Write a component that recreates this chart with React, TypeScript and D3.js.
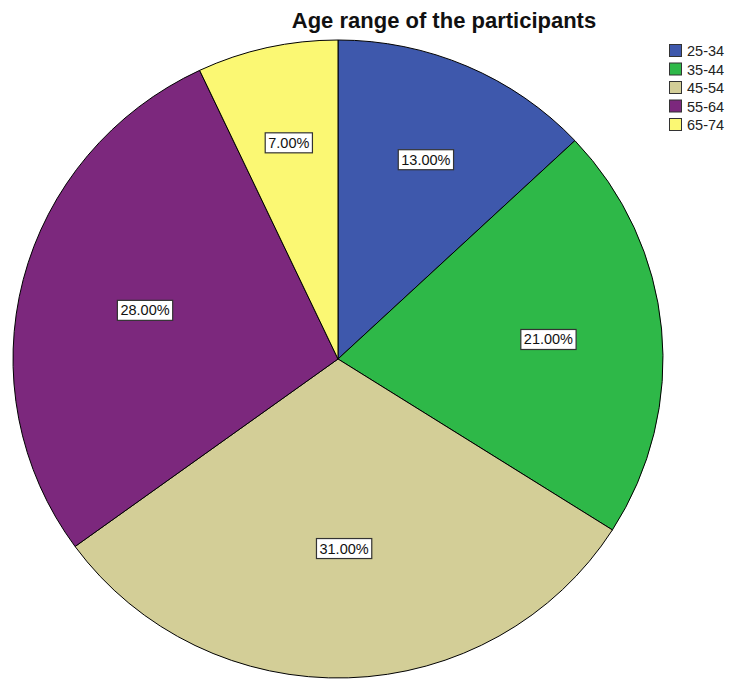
import React, { useEffect, useRef } from "react";
import * as d3 from "d3";

const categories = ["25-34", "35-44", "45-54", "55-64", "65-74"];
const percents = [13, 21, 31, 28, 7];
const colors = ["#3E58AC", "#2EB848", "#D3CE97", "#7C287D", "#FBF873"];
const title = "Age range of the participants";

const W = 729;
const H = 679;

export default function App() {
  const ref = useRef<SVGSVGElement>(null);
  useEffect(() => {
    const svg = d3.select(ref.current);
    svg.selectAll("*").remove();
    const cx = 338;
    const cy = 359;
    const ry = 319;
    const sx = 325 / 319;

    const pie = d3.pie<number>().sort(null).value((d) => d);
    const arcs = pie(percents);
    const arc = d3.arc<d3.PieArcDatum<number>>().innerRadius(0).outerRadius(ry);

    const g = svg.append("g").attr("transform", `translate(${cx},${cy}) scale(${sx},1)`);
    g.selectAll("path")
      .data(arcs)
      .enter()
      .append("path")
      .attr("d", arc as any)
      .attr("fill", (_, i) => colors[i])
      .attr("stroke", "#000")
      .attr("stroke-width", 1)
      .attr("vector-effect", "non-scaling-stroke");

    const lg = svg.append("g").attr("transform", `translate(${cx},${cy})`);
    arcs.forEach((a) => {
      const half = (a.endAngle - a.startAngle) / 2;
      const rr = ry * 0.7 * (Math.sin(half) / half);
      const labelArc = d3.arc<d3.PieArcDatum<number>>().innerRadius(rr).outerRadius(rr);
      const [x0, y] = labelArc.centroid(a);
      const x = x0 * sx;
      const t = lg
        .append("text")
        .attr("x", x)
        .attr("y", y)
        .attr("text-anchor", "middle")
        .attr("dominant-baseline", "central")
        .attr("font-family", "'Liberation Sans', Arial, sans-serif")
        .attr("font-size", 14.5)
        .attr("fill", "#111")
        .text(d3.format(".2f")(a.data) + "%");
      const bb = (t.node() as SVGTextElement).getBBox();
      lg.insert("rect", "text")
        .attr("x", bb.x - 3)
        .attr("y", y - 10)
        .attr("width", bb.width + 6)
        .attr("height", 20)
        .attr("fill", "#fff")
        .attr("stroke", "#333")
        .attr("stroke-width", 1.2);
      t.raise();
    });

    svg
      .append("text")
      .attr("x", 444)
      .attr("y", 28)
      .attr("text-anchor", "middle")
      .attr("font-family", "'Liberation Sans', Arial, sans-serif")
      .attr("font-weight", "bold")
      .attr("font-size", 22)
      .attr("fill", "#111")
      .text(title);

    const leg = svg.append("g").attr("transform", "translate(669,44)");
    const yLeg = d3.scaleBand<string>().domain(categories).range([0, 92.5]);
    categories.forEach((c, i) => {
      const y = yLeg(c)!;
      leg
        .append("rect")
        .attr("x", 0.5)
        .attr("y", y + 0.5)
        .attr("width", 12)
        .attr("height", 12)
        .attr("fill", colors[i])
        .attr("stroke", "#333")
        .attr("stroke-width", 1);
      leg
        .append("text")
        .attr("x", 18)
        .attr("y", y + 7)
        .attr("dominant-baseline", "central")
        .attr("font-family", "'Liberation Sans', Arial, sans-serif")
        .attr("font-size", 14.5)
        .attr("fill", "#222")
        .text(c);
    });
  }, []);
  return (
    <svg
      ref={ref}
      width={W}
      height={H}
      style={{ position: "absolute", left: 0, top: 0, background: "#fff" }}
    />
  );
}
